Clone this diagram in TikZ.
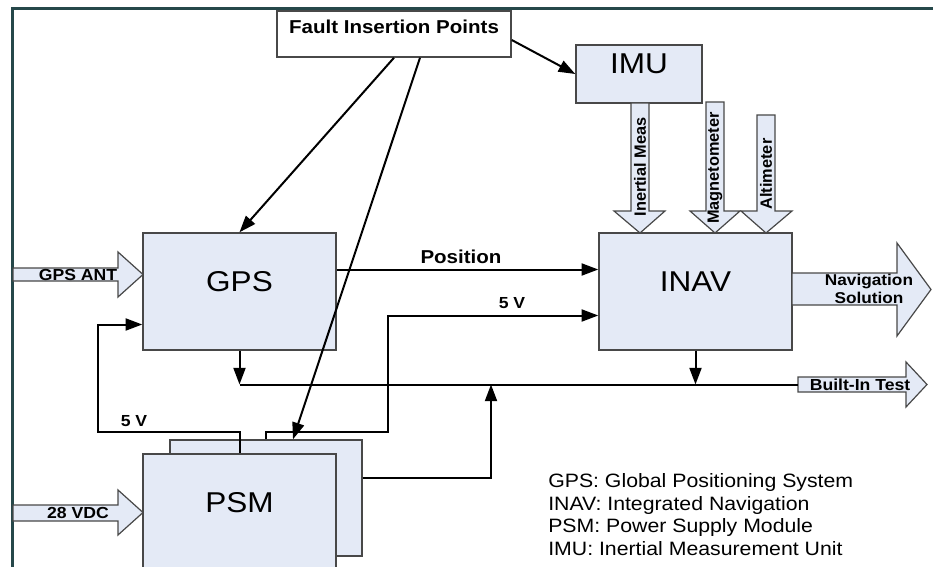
\documentclass[tikz,border=0pt]{standalone}
\usepackage{fontspec}
\setmainfont{Liberation Sans}[FakeStretch=1.1]
\newfontfamily\uprightlabel{Liberation Sans}
\usetikzlibrary{calc,fit,arrows.meta}

\definecolor{boxfill}{RGB}{228,234,246}
\definecolor{boxline}{RGB}{72,72,72}
\definecolor{framecol}{RGB}{38,72,74}

\begin{document}
\begin{tikzpicture}[x=0.75pt,y=-0.75pt,
	font=\fontsize{12}{14}\selectfont\bfseries,
	block/.style={
	draw=boxline,fill=boxfill,line width=1.1pt,inner sep=0pt,
	font=\fontsize{21.5}{26}\selectfont\mdseries,
	},
	fatarrow/.style={draw=boxline,fill=boxfill,line width=0.9pt},
	wire/.style={draw=black,line width=1.5pt},
	signal/.style={wire,-{Triangle[length=12.5pt,width=9pt]}},
	vlabel/.style={rotate=90,font=\uprightlabel\fontsize{12.25}{14}\selectfont\bfseries},
	]
\path[use as bounding box,clip] (0,0) rectangle (933,567);

% frame
\draw[framecol,line width=2.25pt] (940,9) -- (12,9) -- (12,575);

% boxes
\node[draw=boxline,fill=white,line width=1.1pt,inner sep=0pt,fit={(277,11) (511,57)},font=\fontsize{14}{17}\selectfont\bfseries] (fault) {Fault Insertion Points};
\node[block,fit={(576,45) (702,103)}] (imu) {IMU};
\node[block,fit={(143,233) (336,350)}] (gps) {GPS};
\node[block,fit={(599,233) (792,350)}] (inav) {INAV};
\node[block,fit={(170,440) (362,556)}] (psmback) {};
\node[block,fit={(143,454) (336,572)}] (psm) {PSM};

% block arrows
\path[fatarrow] (13,268) -- (118,268) -- (118,252) -- (143,274.5) -- (118,297) -- (118,281) -- (13,281) -- cycle;
\node (gpsant) at (78,274.5) {GPS ANT};
\path[fatarrow] (13,505) -- (118,505) -- (118,490) -- (143,512.5) -- (118,535) -- (118,521) -- (13,521) -- cycle;
\node (vdc) at (78,512.5) {28 VDC};

\path[fatarrow] (631,103) -- (649,103) -- (649,211) -- (665,211) -- (640,233) -- (614,211) -- (631,211) -- cycle;
\node[vlabel] (meas) at (640,167) {Inertial Meas};
\path[fatarrow] (706,102) -- (724,102) -- (724,211) -- (740,211) -- (715,233) -- (690,211) -- (706,211) -- cycle;
\node[vlabel] (magneto) at (715,168) {Magnetometer};
\path[fatarrow] (757,115) -- (775,115) -- (775,211) -- (792,211) -- (766,233) -- (741,211) -- (757,211) -- cycle;
\node[vlabel] (alti) at (766,174) {Altimeter};

\path[fatarrow] (792,273) -- (897,273) -- (897,243) -- (931,289.5) -- (897,336) -- (897,305) -- (792,305) -- cycle;
\node[align=center,font=\fontsize{11.75}{13.5}\selectfont\bfseries] (navsol) at (869,289) {Navigation\\Solution};
\path[fatarrow] (798,377) -- (906,377) -- (906,362) -- (927,384.5) -- (906,407) -- (906,392) -- (798,392) -- cycle;
\coordinate (bitin) at (798,384.5);
\node (bit) at (860,384.5) {Built-In Test};

% connectors
\coordinate (bitline) at (0,384.5);
\coordinate (knee5a) at (98,432);
\coordinate (knee5b) at (388,432);
\coordinate (bitup) at (491,384.5);

\draw[signal] (fault.south) -- (gps.north);
\draw[signal] ($(fault.south)+(26,0)$) -- ($(psmback.north)+(27,0)$);
\draw[signal] ($(fault.east)+(0,6)$) -- (imu.west);

\draw[signal] ($(gps.east)+(0,-22)$) -- ($(inav.west)+(0,-22)$);
\node[font=\fontsize{14}{17}\selectfont\bfseries] (lblpos) at (461,257) {Position};

\draw[signal] (psm.north) |- (knee5a) |- ($(gps.west)+(0,33)$);
\node (lbl5a) at (134,421) {5 V};
\draw[signal] (psmback.north) |- (knee5b) |- ($(inav.west)+(0,24)$);
\node (lbl5b) at (512,303) {5 V};

\draw[signal] (gps.south) -- (gps.south |- bitline);
\draw[wire] (gps.south |- bitline) -- (bitin);
\draw[signal] (inav.south) -- (inav.south |- bitline);
\draw[signal] ($(psmback.east)+(0,-20)$) -| (bitup);

% legend
\node[anchor=west,align=left,inner sep=0pt,font=\fontsize{14.5}{17}\selectfont\mdseries] (legend) at (548,514.5) {GPS: Global Positioning System\\INAV: Integrated Navigation\\PSM: Power Supply Module\\IMU: Inertial Measurement Unit};

\end{tikzpicture}
\end{document}
